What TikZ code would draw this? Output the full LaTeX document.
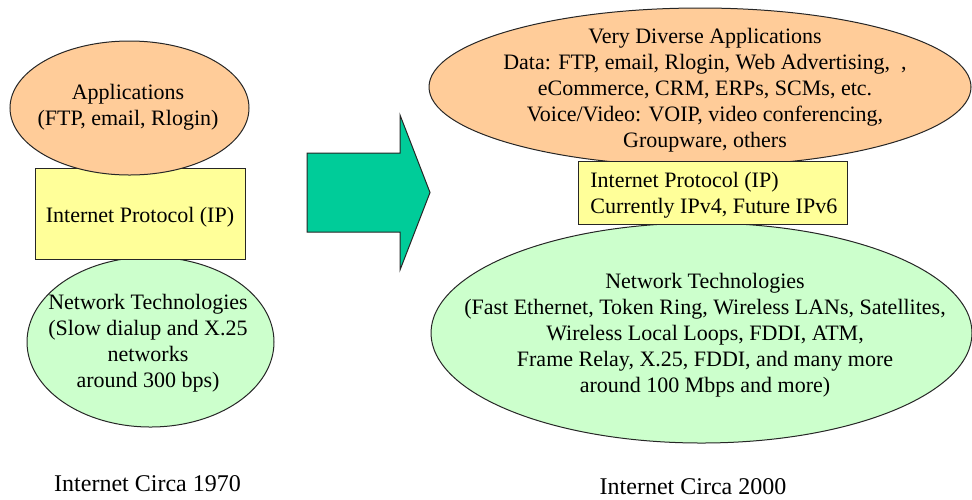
\documentclass[tikz,border=0pt]{standalone}
\usepackage{fontspec}
\setmainfont{Liberation Serif}
\usetikzlibrary{shapes.geometric}
\definecolor{appfill}{HTML}{FFCC99}
\definecolor{ipfill}{HTML}{FFFF99}
\definecolor{netfill}{HTML}{CCFFCC}
\definecolor{arrowfill}{HTML}{00CC99}
\begin{document}
\begin{tikzpicture}[x=0.5pt, y=-0.5pt,
  layer/.style={draw=black!85, line width=0.5pt, inner sep=0pt},
  appblob/.style={layer, ellipse, fill=appfill},
  netblob/.style={layer, ellipse, fill=netfill},
  ipbox/.style={layer, rectangle, fill=ipfill},
  txt/.style={font=\fontsize{11}{13}\selectfont, align=center, inner sep=0pt},
  caption/.style={font=\fontsize{12}{14}\selectfont, inner sep=0pt, anchor=base}]
\useasboundingbox (0,0) rectangle (972,499);

% --- 1970 stack ---
\node[netblob, minimum width=123.5pt, minimum height=85pt] (netOld) at (150.5,342) {};
\node[ipbox, minimum width=105pt, minimum height=45.5pt] (ipOld) at (140,213.5) {};
\node[appblob, minimum width=119.5pt, minimum height=67pt] (appOld) at (129.5,108) {};

\node[txt] (appOldText) at (128,107.5) {Applications\\(FTP, email, Rlogin)};
\node[txt] (ipOldText) at (140,217) {Internet Protocol (IP)};
\node[txt] (netOldText) at (148,343.5) {Network Technologies\\(Slow dialup and X.25\\networks\\around 300 bps)};

% --- block arrow ---
\fill[arrowfill, draw=black!85, line width=0.5pt]
  (307,153) -- (400,153) -- (400,115) -- (430,192.5) -- (400,270) -- (400,232) -- (307,232) -- cycle;

% --- 2000 stack ---
\node[appblob, minimum width=271pt, minimum height=79pt] (appNew) at (700,87) {};
\node[netblob, minimum width=270.5pt, minimum height=110pt] (netNew) at (701.5,333) {};
\node[ipbox, minimum width=134.5pt, minimum height=31.5pt] (ipNew) at (712.5,192.5) {};

\node[txt] (appNewText) at (705,90.5) {Very Diverse Applications\\Data: FTP, email, Rlogin, Web Advertising,~~,\\eCommerce, CRM, ERPs, SCMs, etc.\\Voice/Video: VOIP, video conferencing,\\Groupware, others};
\node[txt, align=left, anchor=west] (ipNewText) at (590,195.5) {Internet Protocol (IP)\\Currently IPv4, Future IPv6};
\node[txt] (netNewText) at (705,335) {Network Technologies\\(Fast Ethernet, Token Ring, Wireless LANs, Satellites,\\Wireless Local Loops, FDDI, ATM,\\Frame Relay, X.25, FDDI, and many more\\around 100 Mbps and more)};

% --- captions ---
\node[caption] (capOld) at (147.5,491) {Internet Circa 1970};
\node[caption] (capNew) at (693,494) {Internet Circa 2000};
\end{tikzpicture}
\end{document}
